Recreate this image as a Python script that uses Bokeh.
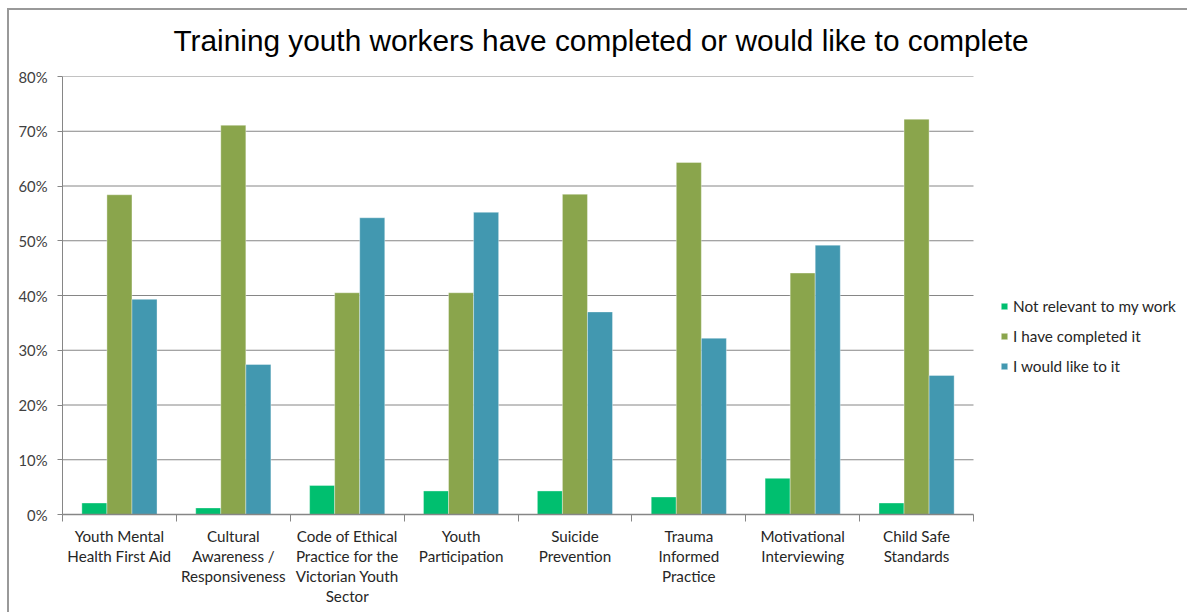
from bokeh.plotting import figure
from bokeh.models import FixedTicker, Legend, LegendItem, Range1d, Title
from bokeh.embed import file_html
from bokeh.resources import INLINE

categories = [
    "Youth Mental\nHealth First Aid",
    "Cultural\nAwareness /\nResponsiveness",
    "Code of Ethical\nPractice for the\nVictorian Youth\nSector",
    "Youth\nParticipation",
    "Suicide\nPrevention",
    "Trauma\nInformed\nPractice",
    "Motivational\nInterviewing",
    "Child Safe\nStandards",
]
series_names = ["Not relevant to my work", "I have completed it", "I would like to it"]
not_relevant = [2.1, 1.2, 5.3, 4.3, 4.3, 3.2, 6.6, 2.1]
completed = [58.4, 71.1, 40.5, 40.5, 58.5, 64.3, 44.1, 72.2]
would_like = [39.3, 27.4, 54.2, 55.2, 37.0, 32.2, 49.2, 25.4]
y_ticks = [0, 10, 20, 30, 40, 50, 60, 70, 80]
colors = ["#00BF6F", "#8AA54C", "#4298B0"]

W, H = 1187, 612
FRAME_L, PLOT_R = 62, 973
n = len(categories)
x_end = n * (W - FRAME_L) / (PLOT_R - FRAME_L)

p = figure(width=W, height=H, output_backend="svg", toolbar_location=None,
           x_range=Range1d(0, x_end), y_range=Range1d(0, 80),
           min_border_left=FRAME_L, min_border_right=0, min_border_top=76, min_border_bottom=98)
p.outline_line_color = None
p.background_fill_alpha = 0
p.border_fill_alpha = 0
p.styles = {
    "background": "linear-gradient(#999999, #999999) 7px 8px / 1180px 2px no-repeat, "
                  "linear-gradient(#999999, #999999) 7px 8px / 2px 604px no-repeat, white",
}

# horizontal gridlines limited to the plotting area
p.segment(x0=[0] * len(y_ticks), x1=[n] * len(y_ticks), y0=y_ticks, y1=y_ticks,
          line_color="#868686", line_width=1)

offsets = [-0.22, 0.0, 0.22]
renderers = []
for vals, off, col in zip([not_relevant, completed, would_like], offsets, colors):
    xs = [i + 0.5 + off for i in range(n)]
    r = p.vbar(x=xs, top=vals, width=0.22, bottom=0, fill_color=col,
               line_color="white", line_width=0.6, line_alpha=0.6)
    renderers.append(r)

# y axis
p.yaxis.ticker = FixedTicker(ticks=y_ticks)
p.yaxis.major_label_overrides = {t: f"{t}%" for t in y_ticks}
p.yaxis.axis_line_color = "#868686"
p.yaxis.major_tick_line_color = "#868686"
p.yaxis.major_tick_out = 5
p.yaxis.major_tick_in = 0
p.yaxis.minor_tick_line_color = None
p.yaxis.major_label_text_font = "Lato"
p.yaxis.major_label_text_font_size = "14.8px"
p.yaxis.major_label_text_color = "#404040"
p.yaxis.major_label_standoff = 10

# x axis
p.xaxis.bounds = (0, n)
p.xaxis.ticker = FixedTicker(ticks=[i + 0.5 for i in range(n)], minor_ticks=list(range(n + 1)))
p.xaxis.major_label_overrides = {i + 0.5: c for i, c in enumerate(categories)}
p.xaxis.axis_line_color = "#868686"
p.xaxis.axis_line_width = 1.5
p.xaxis.major_tick_line_color = None
p.xaxis.minor_tick_line_color = "#868686"
p.xaxis.minor_tick_out = 7
p.xaxis.minor_tick_in = 0
p.xaxis.major_label_text_font = "Lato"
p.xaxis.major_label_text_font_size = "15.2px"
p.xaxis.major_label_text_line_height = 1.12
p.xaxis.major_label_text_color = "#262626"
p.xaxis.major_label_standoff = 5

p.xgrid.grid_line_color = None
p.ygrid.grid_line_color = None

title = Title(text="Training youth workers have completed or would like to complete",
              text_font="Liberation Sans", text_font_size="29.8px", text_font_style="normal",
              text_color="black", align="left", offset=111, standoff=40)
p.add_layout(title, "above")

legend = Legend(items=[LegendItem(label=s, renderers=[r]) for s, r in zip(series_names, renderers)],
                location=(938, 139), border_line_color=None, background_fill_alpha=0,
                label_text_font="Lato", label_text_font_size="15.3px", label_text_color="#262626",
                glyph_width=8, glyph_height=8, spacing=12, label_standoff=5, padding=0, margin=0)
p.add_layout(legend, "center")

open("out.html", "w").write(file_html(p, INLINE))
